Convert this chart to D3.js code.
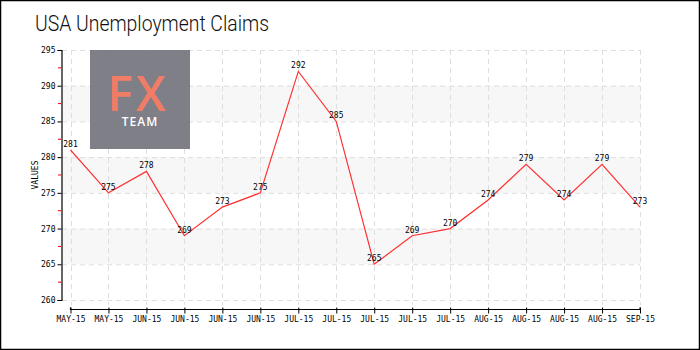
<!DOCTYPE html>
<html><head><meta charset="utf-8">
<script src="https://cdn.jsdelivr.net/npm/d3@7"></script>
<style>body{margin:0;background:#fff}svg{display:block}</style>
</head><body>
<svg id="c" width="700" height="350"></svg>
<script>
const categories = ["MAY-15","MAY-15","JUN-15","JUN-15","JUN-15","JUN-15","JUL-15","JUL-15","JUL-15","JUL-15","JUL-15","AUG-15","AUG-15","AUG-15","AUG-15","SEP-15"];
const values = [281,275,278,269,273,275,292,285,265,269,270,274,279,274,279,273];
const yTicks = [260,265,270,275,280,285,290,295];
const bands = [[285,290],[275,280],[265,270]];
const title = "USA Unemployment Claims";
const yLabel = "VALUES";

const svg = d3.select("#c");
const W = 700, H = 350;
const x = d3.scalePoint().domain(d3.range(categories.length)).range([70.5, 640]);
const y = d3.scaleLinear().domain([260, 295]).range([300, 50]);
const axisX = 61, axisY = 309.5;
const font = "'DejaVu Sans Mono', monospace";

svg.append("rect").attr("x",0.5).attr("y",0.5).attr("width",W-1).attr("height",H-1)
  .attr("fill","#fff").attr("stroke","#000").attr("stroke-width",1.5);

svg.append("text").attr("x",35).attr("y",31).text(title)
  .attr("font-family","Roboto, sans-serif").attr("font-weight",300).attr("font-size",22)
  .attr("textLength",234).attr("lengthAdjust","spacingAndGlyphs").attr("fill","#111");

// bands
svg.selectAll("rect.band").data(bands).join("rect").attr("class","band")
  .attr("x",axisX+1).attr("width",640-axisX)
  .attr("y",d=>y(d[1])).attr("height",d=>y(d[0])-y(d[1]))
  .attr("fill","#f7f7f7");

// grid
svg.append("g").selectAll("line").data(yTicks).join("line")
  .attr("x1",axisX+1).attr("x2",640).attr("y1",d=>y(d)+0.5).attr("y2",d=>y(d)+0.5)
  .attr("stroke","#dedede").attr("stroke-dasharray","5,4");
svg.append("g").selectAll("line").data(d3.range(categories.length)).join("line")
  .attr("x1",d=>Math.round(x(d))+0.5).attr("x2",d=>Math.round(x(d))+0.5).attr("y1",50).attr("y2",305)
  .attr("stroke","#dedede").attr("stroke-dasharray","5,4");

// logo
const logo = svg.append("g").attr("opacity",0.93);
logo.append("rect").attr("x",90).attr("y",50).attr("width",100).attr("height",99).attr("fill","#76767f");
logo.append("text").attr("x",138).attr("y",111).attr("text-anchor","middle")
  .attr("font-family","'Open Sans', sans-serif").attr("font-weight",600).attr("font-size",48).attr("letter-spacing",3).attr("fill","#f0735c").text("FX");
logo.append("text").attr("x",140).attr("y",126).attr("text-anchor","middle")
  .attr("font-family","'Open Sans', sans-serif").attr("font-weight",600).attr("font-size",12).attr("letter-spacing",1).attr("fill","#fff").text("TEAM");

// y axis
const ya = svg.append("g").attr("transform",`translate(${axisX+0.5},0)`)
  .call(d3.axisLeft(y).tickValues(yTicks).tickSize(4).tickPadding(2).tickFormat(d3.format("d")));
ya.select(".domain").attr("stroke","#000").attr("stroke-width",1.2);
ya.selectAll(".tick line").attr("stroke","#000");
ya.selectAll("text").attr("font-family",font).attr("font-size",8).attr("fill","#000");
svg.append("g").selectAll("line").data(yTicks.slice(0,-1).map(d=>d+2.5)).join("line")
  .attr("x1",axisX-3).attr("x2",axisX).attr("y1",d=>y(d)).attr("y2",d=>y(d))
  .attr("stroke","#e00").attr("stroke-width",1);
svg.append("text").attr("transform",`translate(38,175) rotate(-90)`).attr("text-anchor","middle")
  .attr("font-family",font).attr("font-size",8).text(yLabel);

// x axis
const xa = svg.append("g").attr("transform",`translate(0,${axisY})`)
  .call(d3.axisBottom(x).tickSize(4).tickPadding(3).tickFormat(i=>categories[i]));
xa.select(".domain").attr("stroke","#000").attr("stroke-width",1.2).attr("d",`M${x(0)},-2V0H${x(categories.length-1)}V-2`);
xa.selectAll(".tick line").attr("stroke","#000").attr("y1",-2);
xa.selectAll("text").attr("font-family",font).attr("font-size",8).attr("fill","#000");

// line
const line = d3.line().x((d,i)=>x(i)).y(d=>y(d));
svg.append("path").datum(values).attr("d",line).attr("fill","none").attr("stroke","#ff3030").attr("stroke-width",1.2);

svg.append("g").selectAll("text").data(values).join("text")
  .attr("x",(d,i)=>x(i)).attr("y",d=>y(d)-3).attr("text-anchor","middle")
  .attr("font-family",font).attr("font-size",8).attr("fill","#000").text(d=>d);
</script>
</body></html>
